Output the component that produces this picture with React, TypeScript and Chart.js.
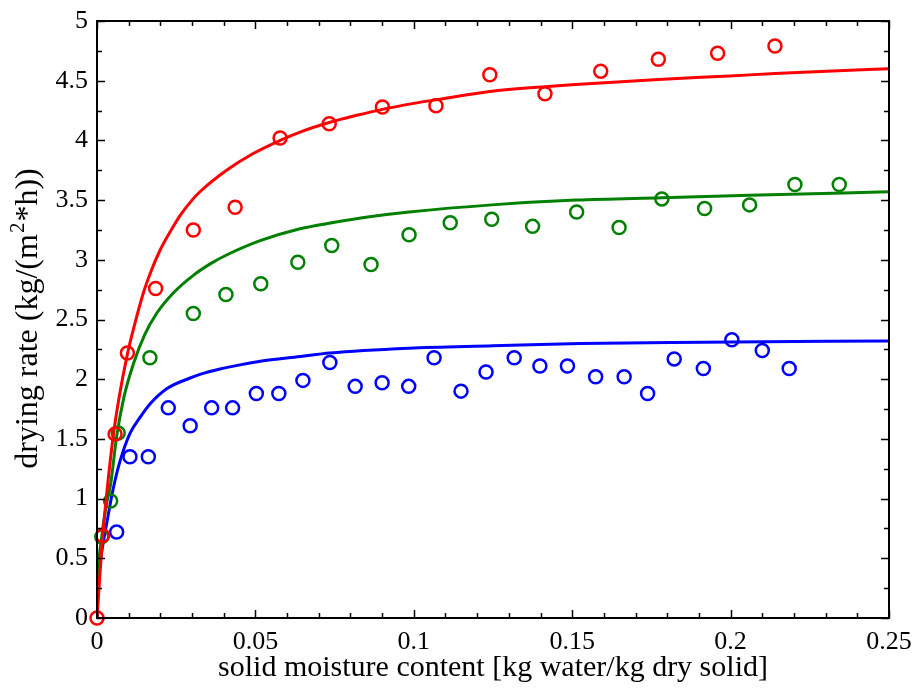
import React, { useEffect, useRef } from "react";
import { Chart, registerables } from "chart.js";

Chart.register(...registerables);

// ---- data ----
const redX = [0, 0.0018, 0.0057, 0.0096, 0.0185, 0.0304, 0.0436, 0.0578, 0.0733, 0.0901, 0.107, 0.124, 0.1414, 0.159, 0.1772, 0.1959, 0.214];
const redY = [0, 0.69, 1.54, 2.22, 2.76, 3.25, 3.44, 4.02, 4.14, 4.28, 4.29, 4.55, 4.39, 4.58, 4.68, 4.73, 4.79];

const greenX = [0.0015, 0.0043, 0.0067, 0.0167, 0.0304, 0.0407, 0.0517, 0.0634, 0.0741, 0.0865, 0.0985, 0.1115, 0.1246, 0.1375, 0.1514, 0.1648, 0.1783, 0.1918, 0.206, 0.2203, 0.2343];
const greenY = [0.68, 0.98, 1.55, 2.18, 2.55, 2.71, 2.8, 2.98, 3.12, 2.96, 3.21, 3.31, 3.34, 3.28, 3.4, 3.27, 3.51, 3.43, 3.46, 3.63, 3.63];

const blueX = [0.0062, 0.0104, 0.0162, 0.0225, 0.0294, 0.0362, 0.0428, 0.0503, 0.0574, 0.065, 0.0735, 0.0815, 0.09, 0.0984, 0.1064, 0.1149, 0.1228, 0.1317, 0.1398, 0.1485, 0.1574, 0.1664, 0.1738, 0.1822, 0.1914, 0.2004, 0.21, 0.2185];
const blueY = [0.72, 1.35, 1.35, 1.76, 1.61, 1.76, 1.76, 1.88, 1.88, 1.99, 2.14, 1.94, 1.97, 1.94, 2.18, 1.9, 2.06, 2.18, 2.11, 2.11, 2.02, 2.02, 1.88, 2.17, 2.09, 2.33, 2.24, 2.09];

// fitted curves
const redFitX = [0, 0.0002, 0.0008, 0.0018, 0.0033, 0.0051, 0.007, 0.0096, 0.012, 0.0146, 0.017, 0.0199, 0.023, 0.0262, 0.03, 0.0325, 0.0409, 0.0493, 0.0578, 0.0641, 0.0733, 0.082, 0.0901, 0.1, 0.107, 0.124, 0.1414, 0.1525, 0.1772, 0.1998, 0.214, 0.2303, 0.25];
const redFitY = [0, 0.08, 0.32, 0.69, 1.1, 1.52, 1.85, 2.21, 2.47, 2.72, 2.9, 3.08, 3.23, 3.37, 3.5, 3.57, 3.75, 3.89, 4.0, 4.07, 4.15, 4.21, 4.26, 4.31, 4.34, 4.41, 4.45, 4.47, 4.51, 4.54, 4.56, 4.58, 4.6];

const greenFitX = [0, 0.0002, 0.0015, 0.003, 0.0043, 0.0062, 0.0085, 0.0115, 0.015, 0.0188, 0.024, 0.0304, 0.036, 0.0409, 0.0515, 0.0641, 0.0741, 0.086, 0.0985, 0.1246, 0.1512, 0.1783, 0.206, 0.25];
const greenFitY = [0, 0.25, 0.68, 0.95, 1.12, 1.52, 1.85, 2.13, 2.37, 2.55, 2.72, 2.87, 2.97, 3.04, 3.16, 3.26, 3.31, 3.36, 3.4, 3.46, 3.5, 3.52, 3.54, 3.57];

const blueFitX = [0, 0.0004, 0.0012, 0.0025, 0.004, 0.0051, 0.0065, 0.0083, 0.0105, 0.0136, 0.017, 0.022, 0.0294, 0.0325, 0.0388, 0.0451, 0.0515, 0.0641, 0.0735, 0.0984, 0.1251, 0.1525, 0.1914, 0.25];
const blueFitY = [0, 0.28, 0.5, 0.71, 0.93, 1.08, 1.24, 1.4, 1.55, 1.68, 1.8, 1.92, 2.01, 2.04, 2.085, 2.12, 2.15, 2.19, 2.22, 2.26, 2.28, 2.3, 2.31, 2.32];

const xTicks = [0, 0.05, 0.1, 0.15, 0.2, 0.25];
const yTicks = [0, 0.5, 1, 1.5, 2, 2.5, 3, 3.5, 4, 4.5, 5];

const xTitle = "solid moisture content [kg water/kg dry solid]";
const yTitleMain = "drying rate (kg/(m";
const yTitleSup = "2";
const yTitleEnd = "*h))";

const RED = "#ff0000";
const GREEN = "#008000";
const BLUE = "#0000ff";
const FONT = '"Liberation Serif", "Times New Roman", serif';

const zip = (xs: number[], ys: number[]) => xs.map((x, i) => ({ x, y: ys[i] }));

const framePlugin = {
  id: "frame",
  afterDatasetsDraw(chart: any) {
    const { ctx, chartArea: a, scales } = chart;
    const xs = scales.x;
    const ys = scales.y;
    ctx.save();
    ctx.strokeStyle = "#000";
    ctx.lineWidth = 2;
    ctx.beginPath();
    ctx.rect(a.left, a.top, a.right - a.left, a.bottom - a.top);
    ctx.stroke();
    ctx.lineWidth = 1.5;
    ctx.beginPath();
    // x ticks (minor every 0.01, major every 0.05)
    for (let i = 0; i <= 25; i++) {
      const v = i / 100;
      const px = Math.round(xs.getPixelForValue(v)) + 0.5;
      const len = i % 5 === 0 ? 8 : 5;
      ctx.moveTo(px, a.bottom);
      ctx.lineTo(px, a.bottom - len);
      ctx.moveTo(px, a.top);
      ctx.lineTo(px, a.top + len);
    }
    // y ticks (minor every 0.25, major every 0.5)
    for (let i = 0; i <= 20; i++) {
      const v = i / 4;
      const py = Math.round(ys.getPixelForValue(v)) + 0.5;
      const len = i % 2 === 0 ? 8 : 5;
      ctx.moveTo(a.left, py);
      ctx.lineTo(a.left + len, py);
      ctx.moveTo(a.right, py);
      ctx.lineTo(a.right - len, py);
    }
    ctx.stroke();

    // y axis title with superscript
    ctx.fillStyle = "#000";
    ctx.translate(37, (a.top + a.bottom) / 2);
    ctx.rotate(-Math.PI / 2);
    ctx.textBaseline = "alphabetic";
    ctx.textAlign = "left";
    const big = "32px " + FONT;
    const small = "21px " + FONT;
    ctx.font = big;
    const w1 = ctx.measureText(yTitleMain).width;
    const w3 = ctx.measureText(yTitleEnd).width;
    ctx.font = small;
    const w2 = ctx.measureText(yTitleSup).width;
    const start = -(w1 + w2 + w3) / 2;
    ctx.font = big;
    ctx.fillText(yTitleMain, start, 0);
    ctx.font = small;
    ctx.fillText(yTitleSup, start + w1 + 1, -13);
    ctx.font = big;
    ctx.fillText(yTitleEnd, start + w1 + w2 + 2, 0);
    ctx.restore();
  },
};

const fmt = (v: number) => String(Math.round(v * 1000) / 1000);

export default function App() {
  const ref = useRef<HTMLCanvasElement | null>(null);
  useEffect(() => {
    document.body.style.margin = "0";
    const canvas = ref.current;
    if (!canvas) return;
    const lineDs = (xs: number[], ys: number[], color: string) => ({
      data: zip(xs, ys),
      showLine: true,
      borderColor: color,
      borderWidth: 3,
      pointRadius: 0,
      fill: false,
      cubicInterpolationMode: "monotone" as const,
    });
    const ptDs = (xs: number[], ys: number[], color: string) => ({
      data: zip(xs, ys),
      showLine: false,
      borderColor: color,
      backgroundColor: "rgba(0,0,0,0)",
      borderWidth: 2.5,
      pointRadius: 6.5,
      pointStyle: "circle",
      clip: false as const,
    });
    const chart = new Chart(canvas, {
      type: "scatter",
      data: {
        datasets: [
          ptDs(redX, redY, RED),
          lineDs(redFitX, redFitY, RED),
          ptDs(greenX, greenY, GREEN),
          lineDs(greenFitX, greenFitY, GREEN),
          ptDs(blueX, blueY, BLUE),
          lineDs(blueFitX, blueFitY, BLUE),
        ] as any,
      },
      options: {
        animation: false,
        responsive: false,
        maintainAspectRatio: false,
        layout: { padding: { left: 0, top: 21, right: 25, bottom: 0 } },
        plugins: { legend: { display: false }, tooltip: { enabled: false } },
        scales: {
          x: {
            type: "linear",
            min: 0,
            max: 0.25,
            afterFit: (s: any) => {
              s.height = 71;
              s.paddingLeft = 0;
              s.paddingRight = 0;
            },
            afterBuildTicks: (s: any) => {
              s.ticks = xTicks.map((v) => ({ value: v }));
            },
            grid: { display: false, drawTicks: false },
            border: { display: false },
            ticks: {
              color: "#000",
              font: { family: FONT, size: 26 },
              padding: 9,
              maxRotation: 0,
              autoSkip: false,
              callback: (v: any) => fmt(Number(v)),
            },
            title: {
              display: true,
              text: xTitle,
              color: "#000",
              font: { family: FONT, size: 30 },
              padding: { top: 0, bottom: 3 },
            },
          },
          y: {
            type: "linear",
            min: 0,
            max: 5,
            afterFit: (s: any) => {
              s.width = 97;
              s.paddingTop = 0;
              s.paddingBottom = 0;
            },
            afterBuildTicks: (s: any) => {
              s.ticks = yTicks.map((v) => ({ value: v }));
            },
            grid: { display: false, drawTicks: false },
            border: { display: false },
            ticks: {
              color: "#000",
              font: { family: FONT, size: 26 },
              padding: 9,
              autoSkip: false,
              callback: (v: any) => fmt(Number(v)),
            },
          },
        },
      } as any,
      plugins: [framePlugin],
    });
    return () => chart.destroy();
  }, []);
  return (
    <div style={{ width: 914, height: 689, background: "#fff", overflow: "hidden" }}>
      <canvas ref={ref} width={914} height={689} style={{ display: "block" }} />
    </div>
  );
}
